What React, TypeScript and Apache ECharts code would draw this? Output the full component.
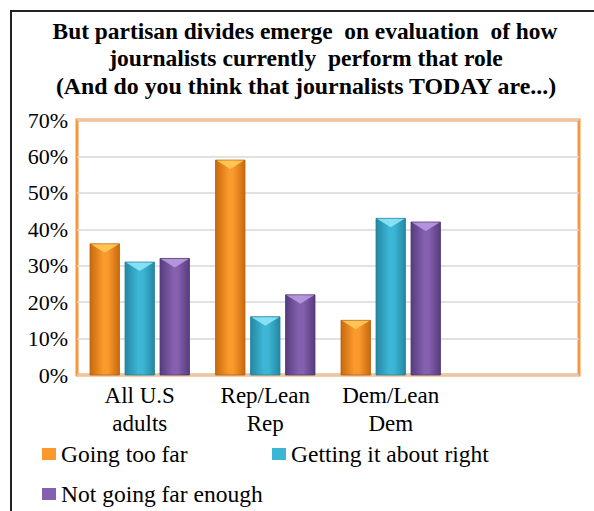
import React, { useEffect, useRef } from "react";
import * as echarts from "echarts";

const categories = ["All U.S\nadults", "Rep/Lean\nRep", "Dem/Lean\nDem", ""];
const seriesNames = ["Going too far", "Getting it about right", "Not going far enough"];
const goingTooFar = [36, 59, 15];
const aboutRight = [31, 16, 43];
const notFarEnough = [32, 22, 42];
const yTicks = [0, 10, 20, 30, 40, 50, 60, 70];
const titleLines = [
  "But partisan divides emerge  on evaluation  of how",
  "journalists currently  perform that role",
  "(And do you think that journalists TODAY are...)",
];

const palettes = [
  { edge: "#C8690E", mid: "#FB9A2C", cap: "#FFCB5A", border: "#B8600C" },
  { edge: "#2588A3", mid: "#3DB6D6", cap: "#8EE6F8", border: "#23809A" },
  { edge: "#573C7E", mid: "#8560AE", cap: "#B99AE2", border: "#4F3873" },
];

const SERIF = "Times New Roman";

export default function App() {
  const ref = useRef<HTMLDivElement>(null);
  useEffect(() => {
    if (!ref.current) return;
    const chart = echarts.init(ref.current, undefined, { renderer: "svg" });
    const allData = [goingTooFar, aboutRight, notFarEnough];
    const barW = 29.5;
    const gap = 5.5;

    const series = seriesNames.map((name, s) => {
      const p = palettes[s];
      const grad = new echarts.graphic.LinearGradient(0, 0, 1, 0, [
        { offset: 0, color: p.edge },
        { offset: 0.45, color: p.mid },
        { offset: 0.6, color: p.mid },
        { offset: 1, color: p.edge },
      ]);
      return {
        type: "custom",
        name,
        data: allData[s].map((v, i) => [i, v]),
        itemStyle: { color: p.mid },
        encode: { x: 0, y: 1 },
        renderItem: (params: any, api: any) => {
          const cat = api.value(0);
          const val = api.value(1);
          const base = api.coord([cat, 0]);
          const top = api.coord([cat, val]);
          const x = base[0] + (s - 1) * (barW + gap) - barW / 2;
          const h = base[1] - top[1];
          const capH = Math.min(9, h);
          return {
            type: "group",
            children: [
              {
                type: "rect",
                shape: { x, y: top[1], width: barW, height: h },
                style: { fill: grad, stroke: p.border, lineWidth: 0.8 },
              },
              {
                type: "polygon",
                shape: {
                  points: [
                    [x + 1, top[1] + 0.5],
                    [x + barW - 1, top[1] + 0.5],
                    [x + barW / 2, top[1] + capH],
                  ],
                },
                style: { fill: p.cap, opacity: 0.9 },
              },
            ],
          };
        },
      };
    });

    // title layout
    const titleFont = 23.5;
    const titleCenters = [305, 306, 306];
    const titleWidths = [505, 394, 502];
    const titleYs = [31, 58.5, 86];
    const ctx = document.createElement("canvas").getContext("2d");
    const measure = (t: string) => {
      if (!ctx) return 0;
      ctx.font = `bold ${titleFont}px "${SERIF}"`;
      return ctx.measureText(t).width;
    };

    const legendText = { fontFamily: SERIF, fontSize: 23.5, color: "#000" };

    chart.setOption({
      animation: false,
      backgroundColor: "#ffffff",
      textStyle: { fontFamily: SERIF },
      grid: {
        left: 77,
        right: 15,
        top: 120,
        bottom: 136,
        show: true,
        borderColor: "#F7963F",
        borderWidth: 3,
        backgroundColor: "transparent",
      },
      xAxis: {
        type: "category",
        data: categories,
        axisLine: { show: false },
        axisTick: { show: false },
        axisLabel: {
          color: "#000",
          fontFamily: SERIF,
          fontSize: 23,
          lineHeight: 28,
          margin: 6,
          interval: 0,
        },
      },
      yAxis: {
        type: "value",
        min: yTicks[0],
        max: yTicks[yTicks.length - 1],
        interval: 10,
        axisLine: { show: false },
        axisTick: { show: false },
        axisLabel: {
          formatter: "{value}%",
          color: "#000",
          fontFamily: SERIF,
          fontSize: 22,
          margin: 9,
        },
        splitLine: { lineStyle: { color: "#D9D9D9", width: 1.5 } },
      },
      legend: [
        {
          data: [seriesNames[0]],
          left: 37,
          top: 437,
          icon: "rect",
          itemWidth: 14,
          itemHeight: 12,
          textStyle: legendText,
        },
        {
          data: [seriesNames[1]],
          left: 267,
          top: 437,
          icon: "rect",
          itemWidth: 14,
          itemHeight: 12,
          textStyle: legendText,
        },
        {
          data: [seriesNames[2]],
          left: 37,
          top: 477,
          icon: "rect",
          itemWidth: 14,
          itemHeight: 12,
          textStyle: legendText,
        },
      ],
      graphic: [
        {
          type: "line",
          shape: { x1: 10, y1: 11, x2: 594, y2: 11 },
          style: { stroke: "#222", lineWidth: 2 },
        },
        {
          type: "line",
          shape: { x1: 11, y1: 10, x2: 11, y2: 511 },
          style: { stroke: "#222", lineWidth: 2 },
        },
        ...titleLines.map((t, i) => {
          const w = measure(t);
          const sx = w > 0 ? titleWidths[i] / w : 1;
          return {
            type: "text",
            x: titleCenters[i],
            y: titleYs[i],
            scaleX: sx,
            style: {
              text: t,
              fontFamily: SERIF,
              fontWeight: "bold",
              fontSize: titleFont,
              align: "center",
              verticalAlign: "middle",
              fill: "#000",
            },
          };
        }),
      ],
      series,
    });
    return () => chart.dispose();
  }, []);
  return (
    <div
      ref={ref}
      style={{ position: "fixed", left: 0, top: 0, width: 594, height: 511 }}
    />
  );
}
